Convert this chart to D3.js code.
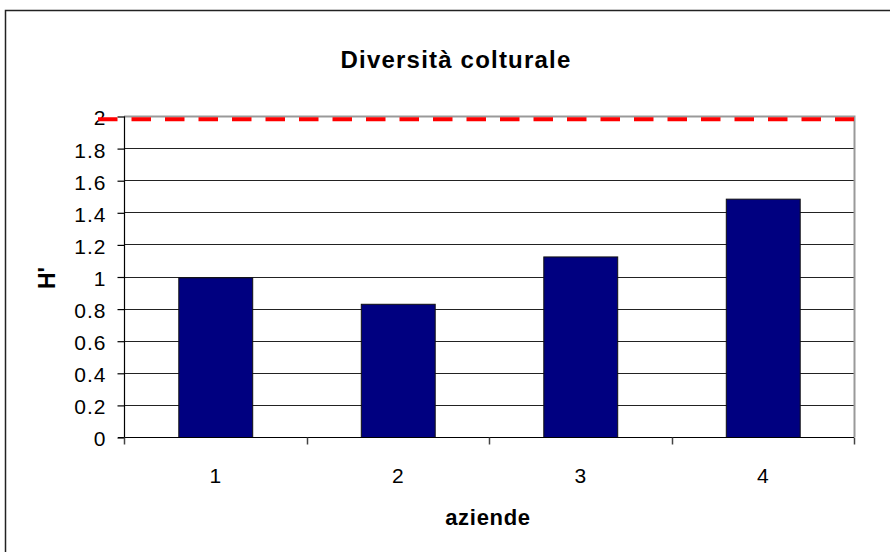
<!DOCTYPE html>
<html><head><meta charset="utf-8">
<script src="https://cdn.jsdelivr.net/npm/d3@7"></script>
<style>body{margin:0;background:#fff}svg{display:block;font-family:Arial,"Liberation Sans",sans-serif}</style>
</head><body><svg id="c" width="890" height="552"></svg>
<script>
const categories = ["1","2","3","4"];
const values = [0.995, 0.83, 1.125, 1.485];
const refValue = 1.98;
const yTicks = [0,0.2,0.4,0.6,0.8,1,1.2,1.4,1.6,1.8,2];
const yTickLabels = ["0","0.2","0.4","0.6","0.8","1","1.2","1.4","1.6","1.8","2"];
const title = "Diversità colturale";
const xTitle = "aziende";
const yTitle = "H'";

const svg = d3.select("#c");
const m = {l:124, r:854, t:116, b:437};
svg.append("rect").attr("width",890).attr("height",552).attr("fill","#fff");
// outer chart border
svg.append("path").attr("d","M5.5,560 V10.5 H900").attr("fill","none").attr("stroke","#222").attr("stroke-width",1.5);

const x = d3.scaleBand().domain(categories).range([m.l,m.r]).paddingInner(0.595).paddingOuter(0.2975);
const xb = d3.scaleBand().domain(categories).range([m.l,m.r]);
const y = d3.scaleLinear().domain([0,2]).range([m.b,m.t]);

// gridlines
svg.append("g").selectAll("line").data(yTicks.filter(d=>d>0 && d<2)).join("line")
  .attr("x1",m.l).attr("x2",m.r).attr("y1",d=>Math.round(y(d))+0.5).attr("y2",d=>Math.round(y(d))+0.5)
  .attr("stroke","#222").attr("stroke-width",1.2);
// plot border top/right
svg.append("path").attr("d",`M${m.l},${m.t+0.5} H${m.r+0.5} V${m.b}`).attr("fill","none").attr("stroke","#999").attr("stroke-width",2);

// bars
svg.append("g").selectAll("rect").data(values).join("rect")
  .attr("x",(d,i)=>x(categories[i])+0.5).attr("width",x.bandwidth())
  .attr("y",d=>y(d)+0.5).attr("height",d=>y(0)-y(d))
  .attr("fill","#000080").attr("stroke","#111").attr("stroke-width",1);

// y axis
const ya = d3.axisLeft(y).tickValues(yTicks).tickFormat((d,i)=>yTickLabels[i]).tickSize(7).tickPadding(11);
const gy = svg.append("g").attr("transform",`translate(${m.l+0.5},0.5)`).call(ya);
gy.select(".domain").attr("stroke","#000").attr("stroke-width",1.2).attr("d",`M0,${m.t}V${m.b}`);
gy.selectAll(".tick line").attr("stroke","#000").attr("stroke-width",1.2);
gy.selectAll(".tick text").attr("font-size",21).attr("fill","#000").attr("font-family","Arial, Liberation Sans").attr("dy","0.4em").attr("letter-spacing","1px");

// x axis
const gx = svg.append("g").attr("transform",`translate(0,${m.b+0.5})`);
gx.append("line").attr("x1",m.l-6).attr("x2",m.r).attr("stroke","#000").attr("stroke-width",1.2);
const bounds = categories.map(c=>xb(c)).concat([m.r]);
gx.selectAll("line.t").data(bounds).join("line").attr("class","t")
  .attr("x1",d=>Math.round(d)+0.5).attr("x2",d=>Math.round(d)+0.5).attr("y1",0).attr("y2",7)
  .attr("stroke","#444").attr("stroke-width",1.5);
gx.selectAll("text").data(categories).join("text")
  .attr("x",d=>xb(d)+xb.bandwidth()/2).attr("y",45)
  .attr("text-anchor","middle").attr("font-size",21).text(d=>d);

// reference dashed line
svg.append("line").attr("x1",m.l-26).attr("x2",m.r).attr("y1",y(refValue)).attr("y2",y(refValue))
  .attr("stroke","#ff0000").attr("stroke-width",4).attr("stroke-dasharray","19.5,14");

// titles
svg.append("text").attr("x",456).attr("y",68).attr("text-anchor","middle").attr("font-size",24)
  .attr("font-weight","bold").attr("letter-spacing","1.2px").text(title);
svg.append("text").attr("x",488).attr("y",525).attr("text-anchor","middle").attr("font-size",22)
  .attr("font-weight","bold").attr("letter-spacing","0.7px").text(xTitle);
svg.append("text").attr("transform","translate(55,278) rotate(-90)").attr("text-anchor","middle")
  .attr("font-size",23).attr("font-weight","bold").text(yTitle);
</script></body></html>
